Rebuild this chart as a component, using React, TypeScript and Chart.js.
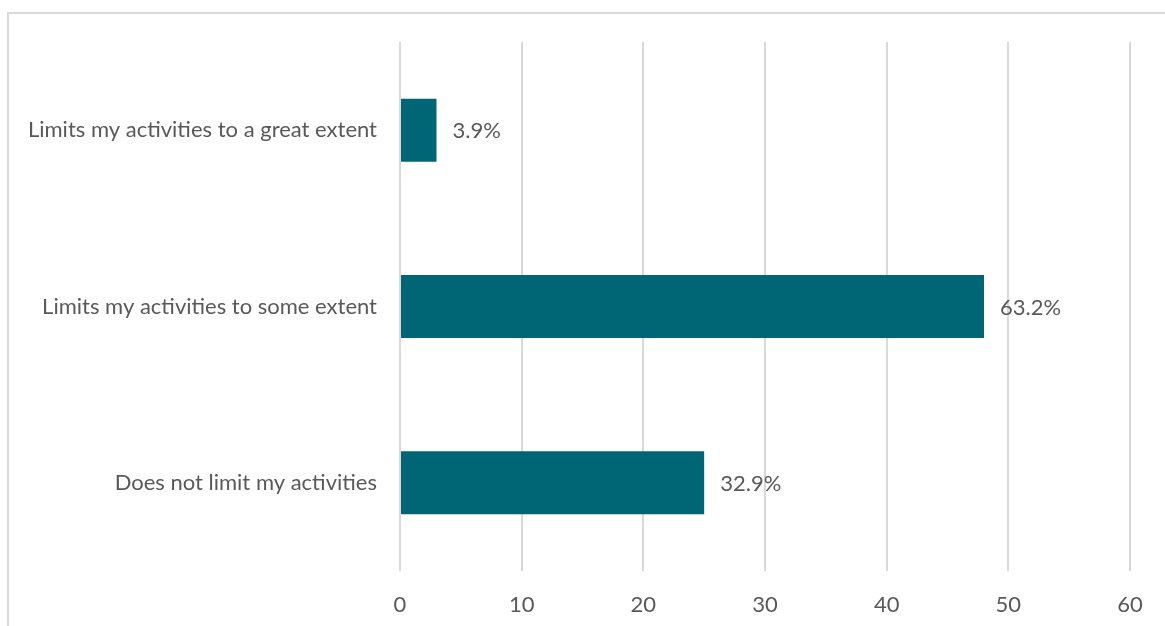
import React, { useEffect, useRef } from "react";
import { Chart, registerables } from "chart.js";

Chart.register(...registerables);

const categories = [
  "Limits my activities to a great extent",
  "Limits my activities to some extent",
  "Does not limit my activities",
];
const counts = [3, 48, 25];
const percentLabels = ["3.9%", "63.2%", "32.9%"];
const xTicks = [0, 10, 20, 30, 40, 50, 60];

const BAR_COLOR = "#006675";
const TEXT_COLOR = "#595959";
const GRID_COLOR = "#d9d9d9";
const FONT_FAMILY = "Lato, 'Open Sans', sans-serif";
const FONT_SIZE = 22;

const valueLabelPlugin = {
  id: "valueLabels",
  afterDatasetsDraw(chart: any) {
    const ctx = chart.ctx;
    const meta = chart.getDatasetMeta(0);
    ctx.save();
    ctx.font = `${FONT_SIZE}px ${FONT_FAMILY}`;
    ctx.fillStyle = TEXT_COLOR;
    ctx.textAlign = "left";
    ctx.textBaseline = "middle";
    meta.data.forEach((bar: any, i: number) => {
      ctx.fillText(percentLabels[i], bar.x + 16, bar.y + 1);
    });
    ctx.restore();
  },
};

export default function App() {
  const ref = useRef<HTMLCanvasElement | null>(null);

  useEffect(() => {
    if (!ref.current) return;
    const chart = new Chart(ref.current, {
      type: "bar",
      data: {
        labels: categories,
        datasets: [
          {
            data: counts,
            backgroundColor: BAR_COLOR,
            borderWidth: 0,
            barPercentage: 0.357,
            categoryPercentage: 1,
          },
        ],
      },
      options: {
        indexAxis: "y",
        responsive: false,
        animation: false,
        layout: { padding: { top: 42, right: 35, left: 0, bottom: 0 } },
        plugins: {
          legend: { display: false },
          tooltip: { enabled: false },
        },
        scales: {
          x: {
            min: 0,
            max: 60,
            afterBuildTicks: (scale: any) => {
              scale.ticks = xTicks.map((v) => ({ value: v }));
            },
            afterFit: (scale: any) => {
              scale.height = 55;
            },
            grid: {
              color: GRID_COLOR,
              lineWidth: 2,
              drawTicks: false,
            },
            border: { display: false },
            ticks: {
              color: TEXT_COLOR,
              font: { family: FONT_FAMILY, size: FONT_SIZE },
              padding: 21,
            },
          },
          y: {
            afterFit: (scale: any) => {
              scale.width = 400;
            },
            grid: { display: false, drawTicks: false },
            border: { display: false },
            ticks: {
              color: TEXT_COLOR,
              font: { family: FONT_FAMILY, size: FONT_SIZE },
              padding: 23,
            },
          },
        },
      },
      plugins: [valueLabelPlugin],
    });
    return () => chart.destroy();
  }, []);

  return (
    <div
      style={{
        position: "fixed",
        left: 0,
        top: 0,
        width: 1165,
        height: 626,
        overflow: "hidden",
        background: "#fff",
      }}
    >
      <div
        style={{
          position: "absolute",
          left: 7,
          top: 12,
          width: 1200,
          height: 700,
          border: `2px solid ${GRID_COLOR}`,
          boxSizing: "border-box",
        }}
      />
      <canvas
        ref={ref}
        width={1165}
        height={626}
        style={{ position: "absolute", left: 0, top: 0, width: 1165, height: 626 }}
      />
    </div>
  );
}
